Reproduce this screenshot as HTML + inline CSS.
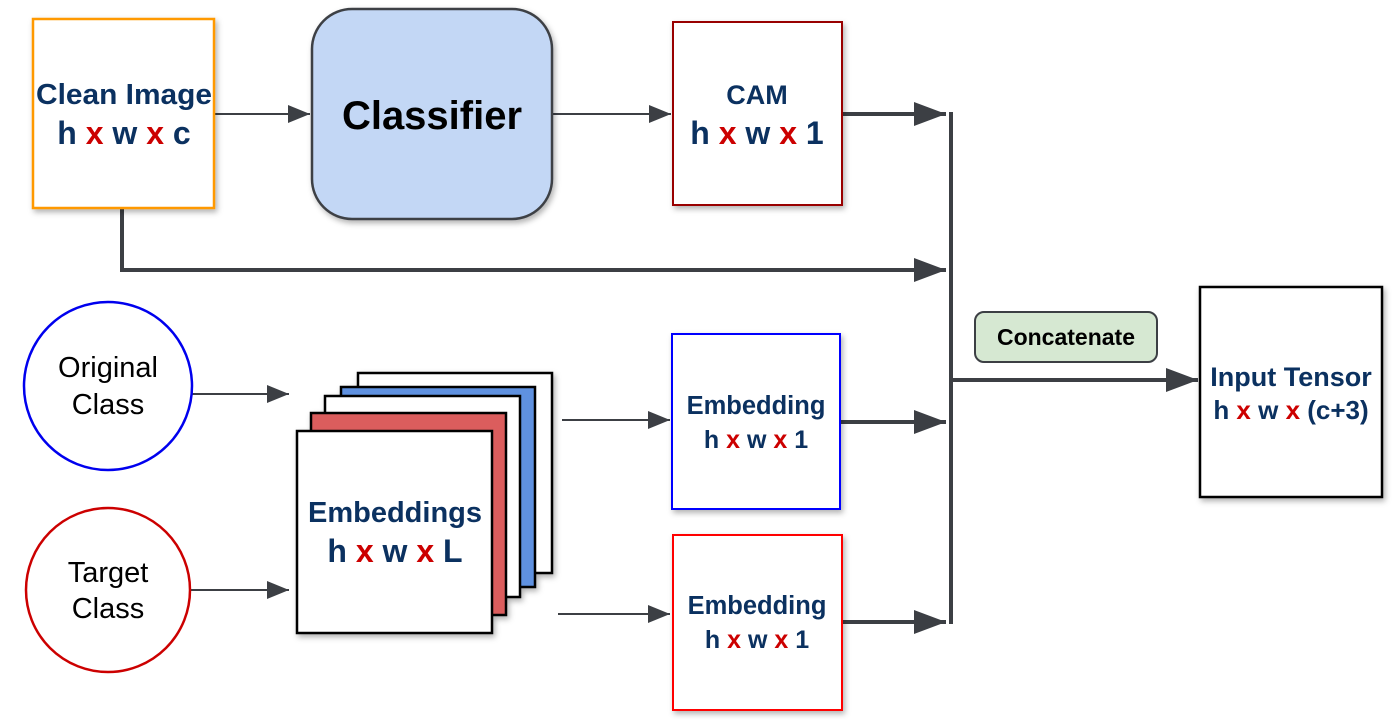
<!DOCTYPE html>
<html><head><meta charset="utf-8"><style>
html,body{margin:0;padding:0;background:#fff;}
svg{display:block;}
text{font-family:"Liberation Sans",sans-serif;font-weight:bold;text-anchor:middle;}
.n{fill:#0b3160;}
.x{fill:#cc0000;}
</style></head><body>
<svg width="1392" height="720" viewBox="0 0 1392 720" xmlns="http://www.w3.org/2000/svg">
<defs>
<marker id="b" viewBox="0 0 10 10" preserveAspectRatio="none" refX="10" refY="5" markerWidth="32" markerHeight="24" markerUnits="userSpaceOnUse" orient="auto"><path d="M0,0 L10,5 L0,10 z" fill="#3c3f44"/></marker>
<marker id="c" viewBox="0 0 10 10" preserveAspectRatio="none" refX="10" refY="5" markerWidth="22" markerHeight="18" markerUnits="userSpaceOnUse" orient="auto"><path d="M0,0 L10,5 L0,10 z" fill="#3c3f44"/></marker>
<filter id="s" x="-10%" y="-10%" width="130%" height="130%"><feDropShadow dx="2" dy="3" stdDeviation="3" flood-opacity="0.3"/></filter>
</defs>
<g stroke="#3c3f44" fill="none">
<line x1="214" y1="114" x2="310" y2="114" stroke-width="2" marker-end="url(#c)"/>
<line x1="552" y1="114" x2="671" y2="114" stroke-width="2" marker-end="url(#c)"/>
<line x1="842" y1="114" x2="946" y2="114" stroke-width="4" marker-end="url(#b)"/>
<polyline points="122,208 122,270 946,270" stroke-width="4" marker-end="url(#b)"/>
<line x1="951" y1="112" x2="951" y2="624" stroke-width="4"/>
<line x1="190" y1="394" x2="289" y2="394" stroke-width="2" marker-end="url(#c)"/>
<line x1="190" y1="590" x2="289" y2="590" stroke-width="2" marker-end="url(#c)"/>
<line x1="562" y1="420" x2="670" y2="420" stroke-width="2" marker-end="url(#c)"/>
<line x1="558" y1="614" x2="670" y2="614" stroke-width="2" marker-end="url(#c)"/>
<line x1="840" y1="422" x2="946" y2="422" stroke-width="4" marker-end="url(#b)"/>
<line x1="842" y1="622" x2="946" y2="622" stroke-width="4" marker-end="url(#b)"/>
<line x1="951" y1="380" x2="1198" y2="380" stroke-width="4" marker-end="url(#b)"/>
</g>
<rect x="33" y="19" width="181" height="189" fill="#fff" stroke="#ff9900" stroke-width="2.5" filter="url(#s)"/>
<text x="124" y="104" font-size="29" class="n" textLength="176" lengthAdjust="spacingAndGlyphs">Clean Image</text>
<text x="124" y="144" font-size="32" class="n">h <tspan class="x">x</tspan> w <tspan class="x">x</tspan> c</text>
<rect x="312" y="9" width="240" height="210" rx="40" fill="#c3d7f5" stroke="#3c3f44" stroke-width="2.5" filter="url(#s)"/>
<text x="432" y="129" font-size="40" fill="#000">Classifier</text>
<rect x="673" y="22" width="169" height="183" fill="#fff" stroke="#990000" stroke-width="2" filter="url(#s)"/>
<text x="757" y="104" font-size="27" class="n">CAM</text>
<text x="757" y="144" font-size="32" class="n">h <tspan class="x">x</tspan> w <tspan class="x">x</tspan> 1</text>
<circle cx="108" cy="386" r="84" fill="#fff" stroke="#0000ee" stroke-width="2.5"/>
<text x="108" y="377" font-size="29" style="font-weight:normal" fill="#000">Original</text>
<text x="108" y="414" font-size="29" style="font-weight:normal" fill="#000">Class</text>
<circle cx="108" cy="590" r="82" fill="#fff" stroke="#cc0000" stroke-width="2.5"/>
<text x="108" y="582" font-size="29" style="font-weight:normal" fill="#000">Target</text>
<text x="108" y="618" font-size="29" style="font-weight:normal" fill="#000">Class</text>
<g stroke="#000" stroke-width="2.5" filter="url(#s)">
<rect x="358" y="373" width="194" height="200" fill="#fff"/>
<rect x="341" y="387" width="194" height="200" fill="#5f91e0"/>
<rect x="325" y="396" width="195" height="201" fill="#fff"/>
<rect x="311" y="413" width="195" height="202" fill="#db5d5d"/>
<rect x="297" y="431" width="195" height="202" fill="#fff"/>
</g>
<text x="395" y="522" font-size="29" class="n">Embeddings</text>
<text x="395" y="562" font-size="32" class="n">h <tspan class="x">x</tspan> w <tspan class="x">x</tspan> L</text>
<rect x="672" y="334" width="168" height="175" fill="#fff" stroke="#0000ff" stroke-width="2" filter="url(#s)"/>
<text x="756" y="414" font-size="25.5" class="n">Embedding</text>
<text x="756" y="448" font-size="25" class="n">h <tspan class="x">x</tspan> w <tspan class="x">x</tspan> 1</text>
<rect x="673" y="535" width="169" height="175" fill="#fff" stroke="#ff0000" stroke-width="2" filter="url(#s)"/>
<text x="757" y="614" font-size="25.5" class="n">Embedding</text>
<text x="757" y="648" font-size="25" class="n">h <tspan class="x">x</tspan> w <tspan class="x">x</tspan> 1</text>
<rect x="975" y="312" width="182" height="50" rx="9" fill="#d6e8d2" stroke="#3c3f44" stroke-width="2"/>
<text x="1066" y="345" font-size="23" fill="#000">Concatenate</text>
<rect x="1200" y="287" width="182" height="210" fill="#fff" stroke="#000" stroke-width="2.5" filter="url(#s)"/>
<text x="1291" y="386" font-size="27" class="n">Input Tensor</text>
<text x="1291" y="419" font-size="26" class="n">h <tspan class="x">x</tspan> w <tspan class="x">x</tspan> (c+3)</text>
</svg>
</body></html>
